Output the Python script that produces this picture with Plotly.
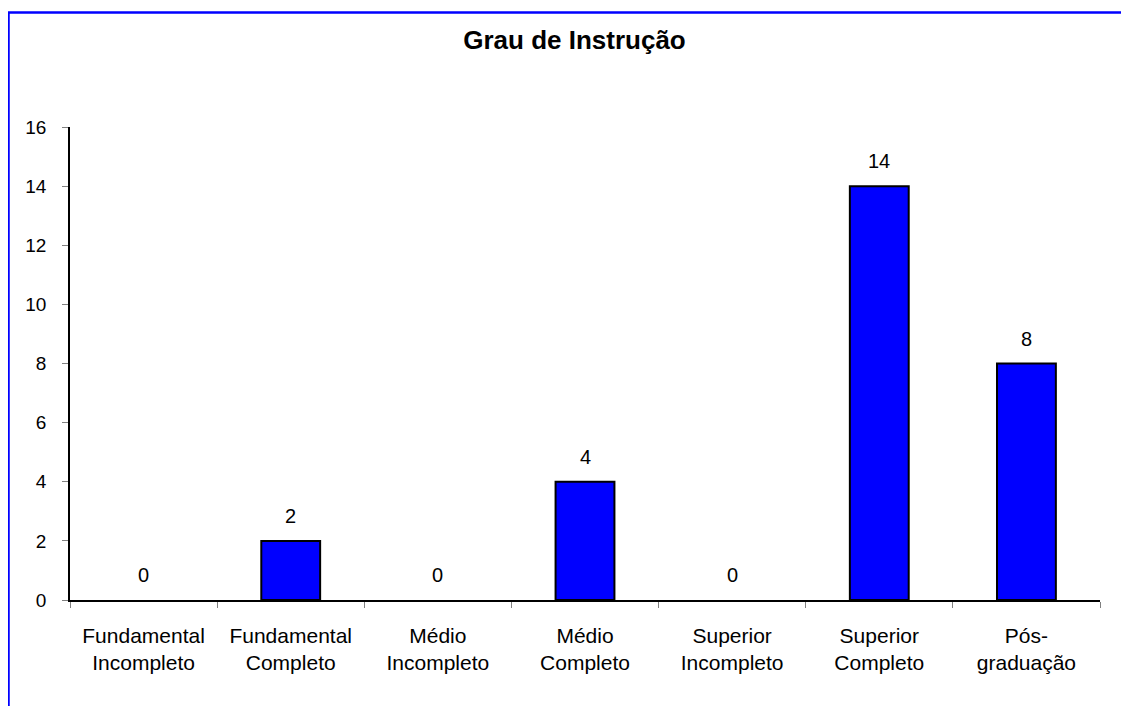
import plotly.graph_objects as go

categories = ["Fundamental<br>Incompleto", "Fundamental<br>Completo", "Médio<br>Incompleto",
              "Médio<br>Completo", "Superior<br>Incompleto", "Superior<br>Completo", "Pós-<br>graduação"]
values = [0, 2, 0, 4, 0, 14, 8]
y_ticks = [0, 2, 4, 6, 8, 10, 12, 14, 16]
title_text = "<b>Grau de Instrução</b>"

FONT = "Liberation Sans, Arial, sans-serif"
OFF = 8  # page body margin offset

fig = go.Figure()
fig.add_trace(go.Bar(
    x=categories, y=values, width=0.4,
    marker=dict(color="#0000FF",
                line=dict(color="#000000", width=[0 if v == 0 else 2 for v in values])),
    hoverinfo="skip",
))

for c, v in zip(categories, values):
    fig.add_annotation(x=c, y=v, text=str(v), showarrow=False, yanchor="bottom",
                       yshift=12, font=dict(family=FONT, size=20, color="#000000"))

W, H = 1121, 698
L, T = 70 - OFF, 127 - OFF
R = W - (1100 - OFF)
B = H - (600 - OFF)
pw, ph = W - L - R, H - T - B
fig.add_shape(type="rect", xref="paper", yref="paper",
              x0=(8.5 - OFF - L) / pw, x1=2.0, y0=-1.0, y1=1 + (T - (12.5 - OFF)) / ph,
              line=dict(color="#0000FF", width=2.5), fillcolor="rgba(0,0,0,0)", layer="above")

fig.update_layout(
    width=W, height=H,
    margin=dict(l=L, r=R, t=T, b=B),
    paper_bgcolor="white", plot_bgcolor="white",
    showlegend=False,
    title=dict(text=title_text, x=(574.5 - OFF) / W, xanchor="center", xref="container",
               y=1 - (40 - OFF) / H, yanchor="middle", yref="container",
               font=dict(family=FONT, size=26, color="#000000")),
    font=dict(family=FONT, size=18, color="#000000"),
)
fig.update_xaxes(
    type="category", tickson="boundaries", ticks="outside", ticklen=6,
    tickcolor="#808080", tickwidth=1,
    showline=True, linecolor="#000000", linewidth=1.5,
    showgrid=False, ticklabelstandoff=16,
    tickfont=dict(family=FONT, size=21, color="#000000"),
)
fig.update_yaxes(
    range=[0, 16], tickvals=y_ticks, ticks="outside", ticklen=6,
    tickcolor="#808080", tickwidth=1,
    showline=True, linecolor="#000000", linewidth=1.5,
    showgrid=False, zeroline=False, ticklabelstandoff=12,
    tickfont=dict(family=FONT, size=19, color="#000000"),
)

fig.write_html("out.html")
